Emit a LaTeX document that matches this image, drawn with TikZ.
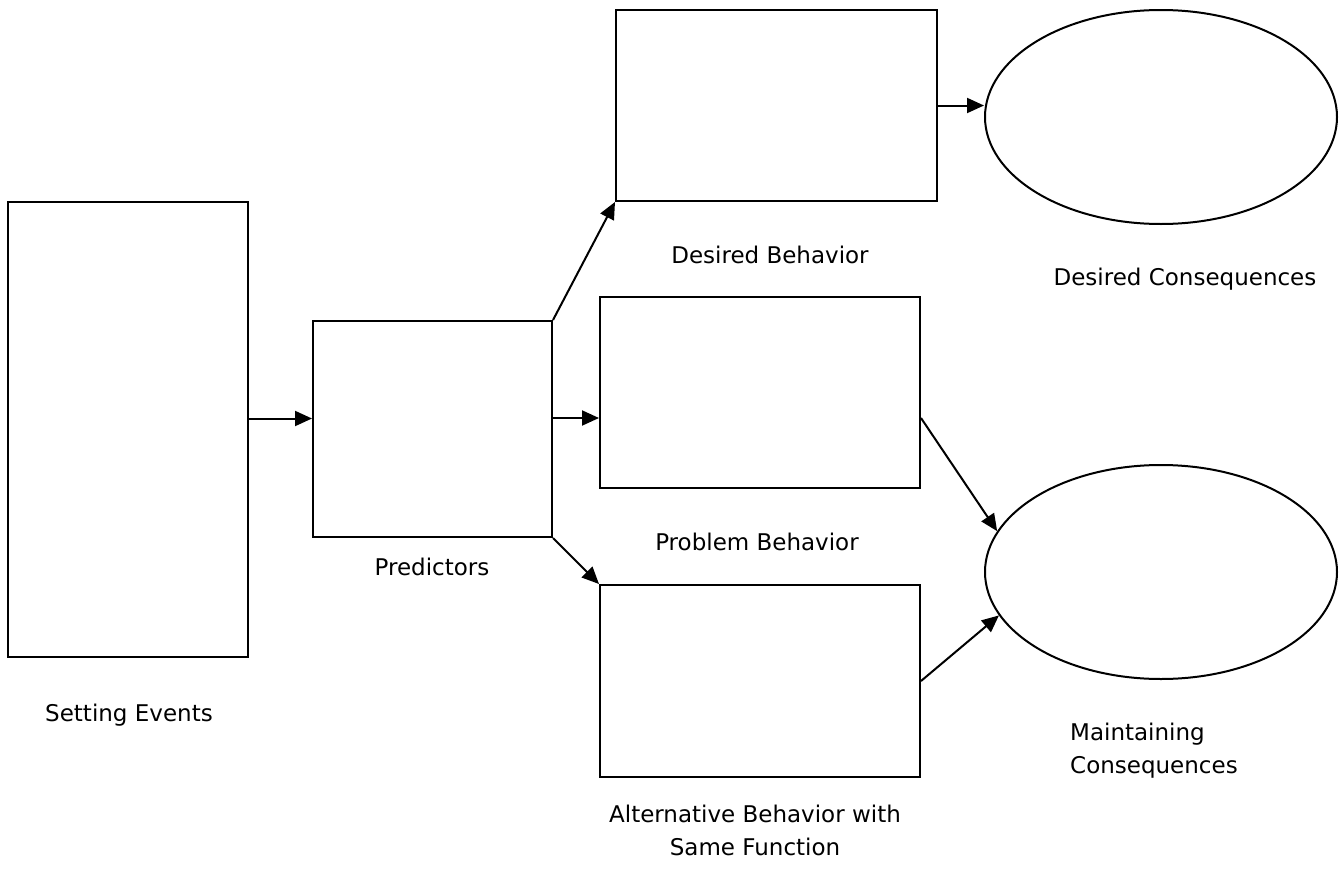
\documentclass[tikz,border=0pt]{standalone}
\usepackage{fontspec}
\setmainfont{DejaVu Sans}
\usetikzlibrary{arrows.meta,shapes.geometric}
\begin{document}
\begin{tikzpicture}[x=1pt,y=-1pt,
  box/.style={draw,line width=2pt,inner sep=0pt},
  oval/.style={draw,ellipse,line width=2pt,inner sep=0pt},
  arr/.style={line width=2pt,-{Triangle[length=17pt,width=15pt]}},
  lbl/.style={font=\fontsize{23}{33}\selectfont,inner sep=0pt,align=center}]
\useasboundingbox (0,0) rectangle (1342,878);
\node[box,minimum width=240pt,minimum height=455pt] (set) at (128,429.5) {};
\node[box,minimum width=239pt,minimum height=216pt] (pred) at (432.5,429) {};
\node[box,minimum width=321pt,minimum height=191pt] (dbeh) at (776.5,105.5) {};
\node[box,minimum width=320pt,minimum height=191pt] (prob) at (760,392.5) {};
\node[box,minimum width=320pt,minimum height=192pt] (alt) at (760,681) {};
\node[oval,minimum width=352pt,minimum height=214pt] (dcons) at (1161,117) {};
\node[oval,minimum width=352pt,minimum height=214pt] (mcons) at (1161,572) {};
\draw[arr] ([yshift=11pt]set.east) -- ([yshift=11pt]set.east -| pred.west);
\draw[arr] (pred.north east) -- (dbeh.south west);
\draw[arr] ([yshift=11pt]pred.east) -- ([yshift=11pt]pred.east -| prob.west);
\draw[arr] (pred.south east) -- (alt.north west);
\draw[arr] (dbeh.east) -- (dbeh.east -| dcons.west);
\draw[arr] ([yshift=-25.5pt]prob.east) -- (mcons.166);
\draw[arr] (alt.east) -- (mcons.195);
\node[lbl] (tdb) at (770,255) {Desired Behavior};
\node[lbl] (tdc) at (1185,279) {Desired Consequences};
\node[lbl] (tpb) at (757,542) {Problem Behavior};
\node[lbl] (tpr) at (432,567) {Predictors};
\node[lbl] (tse) at (129,715) {Setting Events};
\node[lbl,align=left,anchor=west] (tmc) at (1070,751) {Maintaining\\Consequences};
\node[lbl] (tal) at (755,830) {Alternative Behavior with\\Same Function};
\end{tikzpicture}
\end{document}
